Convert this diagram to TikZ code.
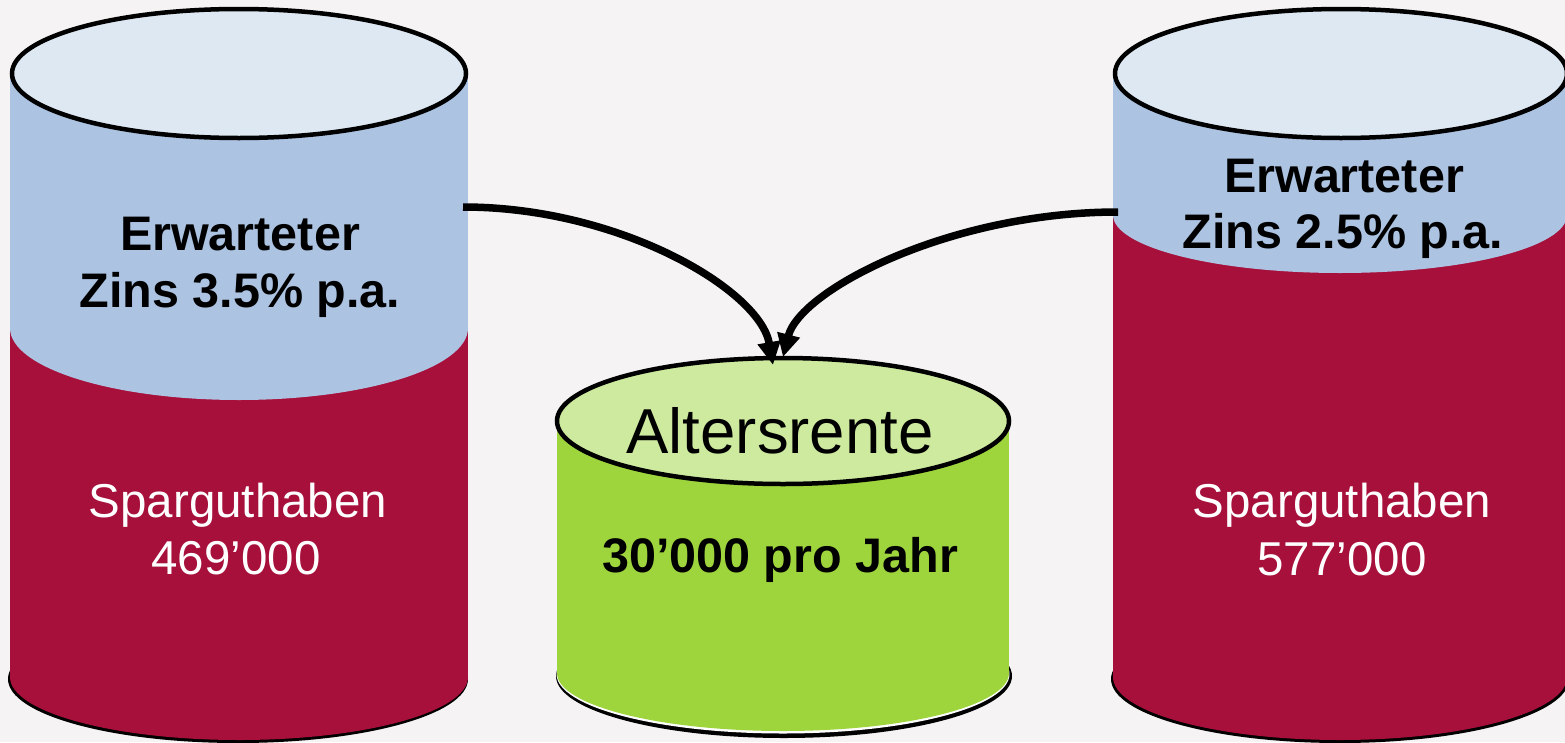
\documentclass[tikz,border=0pt]{standalone}
\usepackage{fontspec}
\setmainfont{Liberation Sans}
\usetikzlibrary{arrows.meta}
\definecolor{bg}{HTML}{F5F3F4}
\definecolor{rot}{HTML}{A6103A}
\definecolor{blau}{HTML}{ACC3E2}
\definecolor{hellblau}{HTML}{DEE8F2}
\definecolor{gruen}{HTML}{9ED53D}
\definecolor{hellgruen}{HTML}{CEEA9F}
\tikzset{
  rim/.style={draw=black, line width=4.5pt},
  boldlbl/.style={anchor=base, font=\fontsize{48.5}{56}\selectfont\bfseries, inner sep=0pt},
  whitelbl/.style={anchor=base, text=white, font=\fontsize{47.5}{56}\selectfont, inner sep=0pt},
  biglbl/.style={anchor=base, font=\fontsize{63.5}{70}\selectfont, inner sep=0pt},
  flow/.style={line width=7.5pt, -{Triangle[length=23pt,width=22pt]}},
}
\begin{document}
\begin{tikzpicture}[x=1pt,y=1pt]
\useasboundingbox (0,0) rectangle (1565,-742);
\fill[bg] (0,0) rectangle (1565,-742);

% left cylinder
\fill[black] (238,-679) ellipse [x radius=230, y radius=64];
\fill[rot] (239,-677) ellipse [x radius=229, y radius=63];
\fill[rot] (10,-74) rectangle (468,-677);
\fill[blau] (10,-74) rectangle (468,-328);
\fill[blau] (239,-328) ellipse [x radius=229, y radius=72];
\filldraw[fill=hellblau, rim] (239,-73.5) ellipse [x radius=227, y radius=64.5];

% right cylinder
\fill[black] (1340,-679) ellipse [x radius=229, y radius=64];
\fill[rot] (1340,-677) ellipse [x radius=227, y radius=63];
\fill[rot] (1113,-74) rectangle (1567,-677);
\fill[blau] (1113,-74) rectangle (1567,-215);
\fill[blau] (1340,-215) ellipse [x radius=227, y radius=58];
\filldraw[fill=hellblau, rim] (1341,-73.5) ellipse [x radius=226, y radius=64.5];

% middle cylinder
\fill[black] (784,-676) ellipse [x radius=228, y radius=62];
\fill[white] (783,-674) ellipse [x radius=226.5, y radius=59.5];
\fill[gruen] (783,-673) ellipse [x radius=226, y radius=58];
\fill[gruen] (557,-421) rectangle (1009,-673);
\filldraw[fill=hellgruen, rim] (783,-421) ellipse [x radius=226, y radius=63];

% texts
\node[boldlbl] (lz1) at (240,-250) {Erwarteter};
\node[boldlbl] (lz2) at (240,-307) {Zins 3.5\% p.a.};
\node[whitelbl] (ls1) at (238,-517) {Sparguthaben};
\node[whitelbl] (ls2) at (236,-574) {469’000};

\node[boldlbl] (rz1) at (1344,-192) {Erwarteter};
\node[boldlbl] (rz2) at (1343,-248) {Zins 2.5\% p.a.};
\node[whitelbl] (rs1) at (1342,-517) {Sparguthaben};
\node[whitelbl] (rs2) at (1342,-575) {577’000};

\node[biglbl] (alt) at (780,-453) {Altersrente};
\node[boldlbl] (rente) at (780,-572) {30’000 pro Jahr};

% connectors
\coordinate (lout) at (463,-207);
\coordinate (rout) at (1118,-212);
\coordinate (inL) at (773,-365);
\coordinate (inR) at (783,-357);
\draw[flow] (lout) .. controls (620,-207) and (760,-290) .. (inL);
\draw[flow] (rout) .. controls (950,-212) and (800,-290) .. (inR);
\end{tikzpicture}
\end{document}
